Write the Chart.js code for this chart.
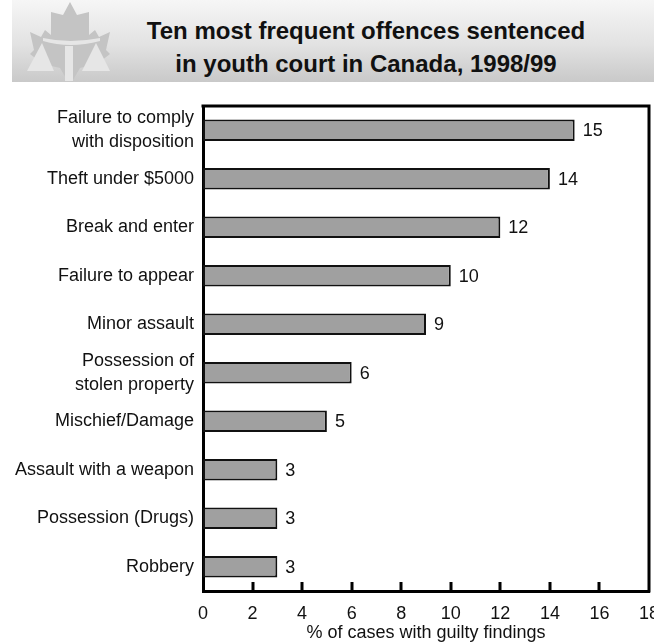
<!DOCTYPE html>
<html>
<head>
<meta charset="utf-8">
<script src="https://cdn.jsdelivr.net/npm/chart.js@4.4.1/dist/chart.umd.min.js"></script>
<style>
  html, body { margin: 0; padding: 0; background: #fff; overflow: hidden; width: 654px; height: 643px; }
  #wrap { position: relative; width: 680px; height: 643px; }
  #band { position: absolute; left: 12px; top: 0; width: 642px; height: 82px;
          background: linear-gradient(to bottom, #f6f6f6 0%, #e2e2e2 55%, #c9c9c9 100%); }
  #logo { position: absolute; left: 0; top: 0; }
  #title { position: absolute; left: 78px; top: 14px; width: 576px; text-align: center;
           font: bold 24px "Liberation Sans", Arial, sans-serif; line-height: 33px; color: #111; }
  canvas { position: absolute; left: 0; top: 0; }
</style>
</head>
<body>
<div id="wrap">
  <div id="band"></div>
  <svg id="logo" width="120" height="82" viewBox="0 0 120 82">
    <path d="M70 2 L77 15 L89 12 L89 35 L95 30 L99 37 L110 32 L106 50 L110 54 L97 64 L80 68 L73 80 L67 80 L60 68 L43 64 L30 54 L34 50 L30 32 L41 37 L45 30 L51 35 L51 12 L63 15 Z" fill="#c4c4c4"/>
    <path d="M43 38 Q70 44 100 38 L100 41 Q70 49 43 41 Z" fill="#e6e6e6"/>
    <rect x="65" y="46" width="8" height="35" fill="#e6e6e6"/>
    <path d="M42 43 L27 71 L54 71 Z" fill="#e6e6e6"/>
    <path d="M96 43 L82 71 L110 71 Z" fill="#e6e6e6"/>
  </svg>
  <div id="title">Ten most frequent offences sentenced<br>in youth court in Canada, 1998/99</div>
  <canvas id="c" width="680" height="643"></canvas>
</div>
<script>
const categories = [
  ["Failure to comply", "with disposition"],
  "Theft under $5000",
  "Break and enter",
  "Failure to appear",
  "Minor assault",
  ["Possession of", "stolen property"],
  "Mischief/Damage",
  "Assault with a weapon",
  "Possession (Drugs)",
  "Robbery"
];
const values = [15, 14, 12, 10, 9, 6, 5, 3, 3, 3];
const xTicks = [0, 2, 4, 6, 8, 10, 12, 14, 16, 18];
const xTitle = "% of cases with guilty findings";

const FONT = '"Liberation Sans", Arial, sans-serif';

const framePlugin = {
  id: 'frame',
  afterDraw(chart) {
    const ctx = chart.ctx;
    const a = chart.chartArea;
    const xs = chart.scales.x;
    ctx.save();
    ctx.strokeStyle = '#000';
    ctx.lineWidth = 3;
    ctx.beginPath();
    ctx.moveTo(a.left - 1.5, a.top);
    ctx.lineTo(a.right, a.top);
    ctx.lineTo(a.right, a.bottom + 1.5);
    ctx.stroke();
    ctx.beginPath();
    xTicks.forEach(v => {
      if (v === xTicks[0] || v === xTicks[xTicks.length - 1]) return;
      const px = Math.round(xs.getPixelForValue(v));
      ctx.moveTo(px, a.bottom);
      ctx.lineTo(px, a.bottom - 9);
    });
    ctx.stroke();
    ctx.restore();
  },
  afterDatasetsDraw(chart) {
    const ctx = chart.ctx;
    const meta = chart.getDatasetMeta(0);
    ctx.save();
    ctx.font = '18px ' + FONT;
    ctx.fillStyle = '#111';
    ctx.textAlign = 'left';
    ctx.textBaseline = 'middle';
    meta.data.forEach((el, i) => {
      ctx.fillText(String(values[i]), el.x + 8, el.y + 1);
    });
    ctx.restore();
  }
};

new Chart(document.getElementById('c'), {
  type: 'bar',
  data: {
    labels: categories,
    datasets: [{
      data: values,
      backgroundColor: '#a0a0a0',
      borderColor: '#111',
      borderWidth: 2,
      borderSkipped: false,
      categoryPercentage: 1,
      barPercentage: 0.44
    }]
  },
  options: {
    indexAxis: 'y',
    responsive: false,
    animation: false,
    layout: { padding: { top: 106, right: 31, bottom: 0, left: 0 } },
    plugins: { legend: { display: false }, tooltip: { enabled: false }, title: { display: false } },
    scales: {
      x: {
        min: 0, max: 18,
        afterBuildTicks(scale) { scale.ticks = xTicks.map(v => ({ value: v })); },
        afterFit(scale) { scale.height = 52; },
        grid: { display: false, drawTicks: false },
        border: { display: true, color: '#000', width: 3 },
        ticks: { color: '#111', font: { family: FONT, size: 18 }, padding: 12, maxRotation: 0, autoSkip: false },
        title: { display: true, text: xTitle, color: '#111', font: { family: FONT, size: 18 }, padding: { top: 0, bottom: -1 } }
      },
      y: {
        afterFit(scale) { scale.width = 203; },
        grid: { display: false, drawTicks: false },
        border: { display: true, color: '#000', width: 3 },
        ticks: { color: '#111', font: { family: FONT, size: 18, lineHeight: 1.33 }, padding: 9, autoSkip: false }
      }
    }
  },
  plugins: [framePlugin]
});
</script>
</body>
</html>
